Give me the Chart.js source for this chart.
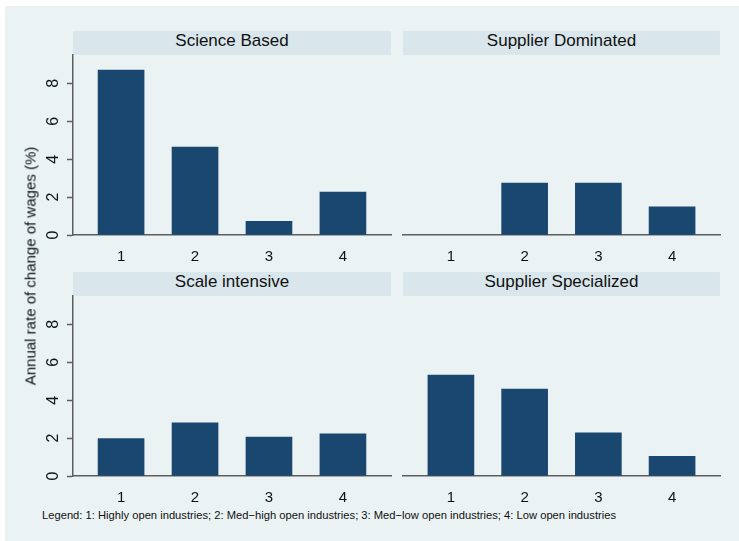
<!DOCTYPE html>
<html>
<head>
<meta charset="utf-8">
<script src="https://cdn.jsdelivr.net/npm/chart.js@4.4.1/dist/chart.umd.min.js"></script>
<style>
body{margin:0;background:#fff;}
#wrap{position:relative;width:739px;height:541px;overflow:hidden;}
#bg{position:absolute;left:5px;top:6px;right:0;bottom:0;background:#eaf2f3;}
canvas{position:absolute;}
.strip{position:absolute;height:24px;line-height:20px;background:#d9e6eb;text-align:center;
  font:17px "Liberation Sans",Arial,sans-serif;color:#111;}
#ytitle{position:absolute;left:30px;top:266px;transform:translate(-50%,-50%) rotate(-90deg);
  white-space:nowrap;font:15px "Liberation Sans",Arial,sans-serif;color:#111;}
#note{position:absolute;left:42px;top:509px;white-space:nowrap;
  font:11.2px "Liberation Sans",Arial,sans-serif;color:#111;}
</style>
</head>
<body>
<div id="wrap">
  <div id="bg"></div>
  <div class="strip" id="s0" style="left:73px;top:31px;width:318px;"></div>
  <div class="strip" id="s1" style="left:403px;top:31px;width:317px;"></div>
  <div class="strip" id="s2" style="left:73px;top:272px;width:318px;"></div>
  <div class="strip" id="s3" style="left:403px;top:272px;width:317px;"></div>
  <canvas id="c0" width="374" height="215" style="left:20px;top:50px;"></canvas>
  <canvas id="c1" width="325" height="215" style="left:398px;top:50px;"></canvas>
  <canvas id="c2" width="374" height="215" style="left:20px;top:291px;"></canvas>
  <canvas id="c3" width="325" height="215" style="left:398px;top:291px;"></canvas>
  <div id="ytitle"></div>
  <div id="note"></div>
</div>
<script>
// data
var categories = ['1', '2', '3', '4'];
var panelTitles = ['Science Based', 'Supplier Dominated', 'Scale intensive', 'Supplier Specialized'];
var scienceBased = [8.70, 4.64, 0.72, 2.27];
var supplierDominated = [null, 2.74, 2.74, 1.49];
var scaleIntensive = [1.97, 2.80, 2.06, 2.23];
var supplierSpecialized = [5.33, 4.59, 2.28, 1.04];
var yTicks = [0, 2, 4, 6, 8];
var yTitle = 'Annual rate of change of wages (%)';
var noteText = 'Legend: 1: Highly open industries; 2: Med\u2212high open industries; 3: Med\u2212low open industries; 4: Low open industries';

var FONT = '"Liberation Sans", Arial, sans-serif';
var BAR = '#1a476f';
var AXIS = '#5e5e5e';

// stata style y labels, turned on their side
var sideLabels = {
    id: 'sideLabels',
    afterDraw: function(chart){
        var y = chart.scales.y;
        if (!chart.options.plugins.sideLabels.show) return;
        var ctx = chart.ctx;
        ctx.save();
        ctx.fillStyle = '#111';
        ctx.font = '16px ' + FONT;
        ctx.textAlign = 'center';
        ctx.textBaseline = 'middle';
        yTicks.forEach(function(v){
            ctx.save();
            ctx.translate(y.right - 19, y.getPixelForValue(v));
            ctx.rotate(-Math.PI / 2);
            ctx.fillText(String(v), 0, 0);
            ctx.restore();
        });
        ctx.restore();
    }
};

function panel(ctx, values, showY){
    new Chart(ctx, {
        type: 'bar',
        data: {
            datasets: [{
                data: values.map(function(v, i){ return {x: i + 1, y: v}; }),
                backgroundColor: BAR,
                borderWidth: 0,
                barThickness: 46
            }]
        },
        plugins: [sideLabels],
        options: {
            responsive: false,
            animation: false,
            layout: {padding: {top: 5, right: 3, left: 0, bottom: 0}},
            plugins: {legend: {display: false}, tooltip: {enabled: false}, sideLabels: {show: showY}},
            scales: {
                x: {
                    type: 'linear',
                    offset: false,
                    min: 0.35,
                    max: 4.65,
                    afterBuildTicks: function(s){ s.ticks = categories.map(function(c, i){ return {value: i + 1}; }); },
                    afterFit: function(s){ s.height = 30; s.paddingLeft = 0; s.paddingRight = 0; },
                    grid: {display: false},
                    border: {display: true, color: AXIS, width: 1.5},
                    ticks: {
                        padding: 5,
                        color: '#111',
                        font: {family: FONT, size: 15},
                        callback: function(v){ return categories[v - 1]; }
                    }
                },
                y: {
                    min: 0,
                    max: 9.5,
                    afterBuildTicks: function(s){ s.ticks = yTicks.map(function(v){ return {value: v}; }); },
                    afterFit: function(s){ s.width = showY ? 53 : 5; s.paddingTop = 0; s.paddingBottom = 0; },
                    grid: {color: '#eaf2f3', lineWidth: 1, drawTicks: showY, tickLength: 6, tickColor: AXIS, tickWidth: 1.5},
                    border: {display: showY, color: AXIS, width: 1.5},
                    ticks: {display: false}
                }
            }
        }
    });
}

var series = [scienceBased, supplierDominated, scaleIntensive, supplierSpecialized];
for (var i = 0; i < 4; i++){
    document.getElementById('s' + i).textContent = panelTitles[i];
    panel(document.getElementById('c' + i), series[i], i % 2 === 0);
}
document.getElementById('ytitle').textContent = yTitle;
document.getElementById('note').textContent = noteText;
</script>
</body>
</html>
